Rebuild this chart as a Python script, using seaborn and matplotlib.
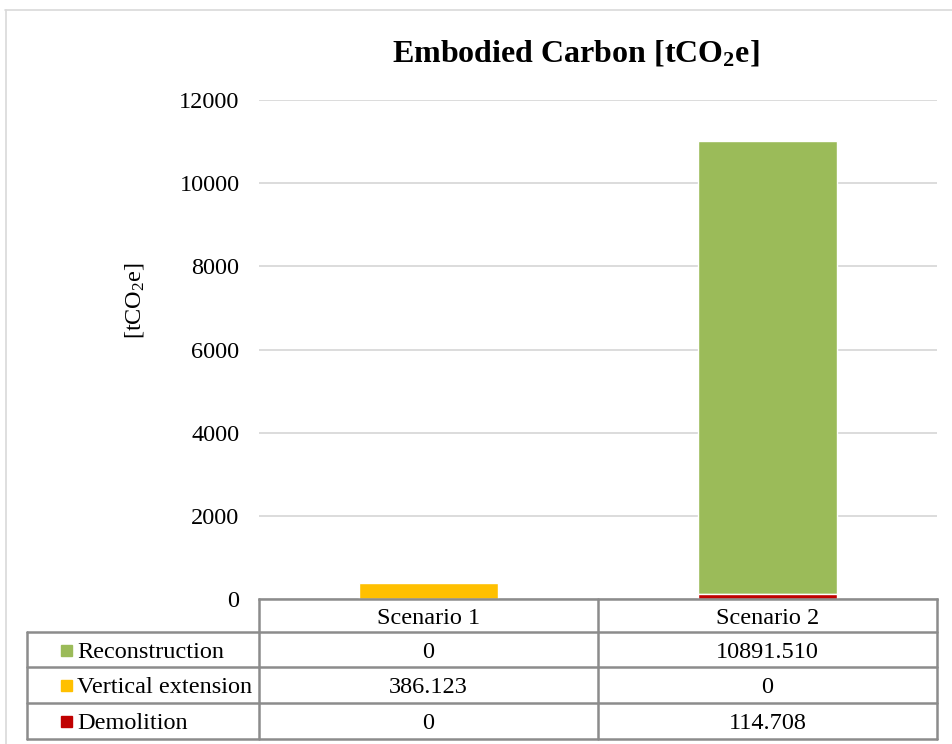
import numpy as np
import pandas as pd
import seaborn as sns
import matplotlib.pyplot as plt
from matplotlib.lines import Line2D
from matplotlib.patches import Rectangle

# datos
scenarios = ['Scenario 1', 'Scenario 2']
series = ['Reconstruction', 'Vertical extension', 'Demolition']
reconstruction = [0.0, 10891.510]
vertical_ext = [386.123, 0.0]
demolition = [0.0, 114.708]
cell_text = [['0', '10891.510'], ['386.123', '0'], ['0', '114.708']]
colores = ['#9BBB59', '#FFC000', '#C00000']

sns.set_style('white')
plt.rcParams['font.family'] = ['Liberation Serif', 'DejaVu Serif']
plt.rcParams['mathtext.fontset'] = 'custom'
plt.rcParams['mathtext.rm'] = 'Liberation Serif'
plt.rcParams['mathtext.it'] = 'Liberation Serif:italic'
plt.rcParams['mathtext.bf'] = 'Liberation Serif:bold'
plt.rcParams['text.color'] = 'black'
plt.rcParams['ytick.color'] = 'black'

W, H = 952, 744
fig = plt.figure(figsize=(W / 100, H / 100), dpi=100)
fs = 17.5

def fx(px):
    return px / W

def fy(py):
    return 1 - py / H

# area del grafico en pixeles
x0, x1, ytop, ybot = 259, 937, 100, 599
ax = fig.add_axes([fx(x0), fy(ybot), fx(x1) - fx(x0), fy(ytop) - fy(ybot)])

df = pd.DataFrame({'scenario': scenarios,
                   'dem': demolition,
                   'ver': np.array(demolition) + np.array(vertical_ext),
                   'tot': np.array(demolition) + np.array(vertical_ext) + np.array(reconstruction)})

# apilado: se dibuja el total y se tapa con los de abajo
sns.barplot(data=df, x='scenario', y='tot', color=colores[0], width=0.408, saturation=1, ax=ax)
sns.barplot(data=df, x='scenario', y='ver', color=colores[1], width=0.408, saturation=1, ax=ax)
sns.barplot(data=df, x='scenario', y='dem', color=colores[2], width=0.408, saturation=1, ax=ax)

ax.set_xlim(-0.5, 1.5)
ax.set_ylim(0, 12000)
ax.set_yticks(np.arange(0, 12001, 2000))
ax.yaxis.grid(True, color='#D9D9D9', linewidth=1.3)
ax.set_axisbelow(True)
for s in ['top', 'right', 'left']:
    ax.spines[s].set_visible(False)
ax.spines['bottom'].set_color('#8C8C8C')
ax.spines['bottom'].set_linewidth(1.8)
ax.tick_params(axis='y', length=0, pad=14, labelsize=fs, labelcolor='black')
ax.set_xticks([])
ax.set_xlabel('')
ax.set_ylabel('')

fig.text(fx(135), fy(301), r'[tCO$_2$e]', rotation=90, ha='center', va='center',
         fontsize=fs)
fig.text(fx(576), fy(53), r'Embodied Carbon [tCO$_\mathbf{2}$e]', ha='center', va='center',
         fontsize=23, fontweight='bold')

# tabla de datos
gris = '#8C8C8C'
lw = 1.8
xcols = [27, 259, 598, 937]
yrows = [599, 632, 667, 703, 739]

def hline(y, xa, xb):
    fig.add_artist(Line2D([fx(xa), fx(xb)], [fy(y), fy(y)], color=gris, lw=lw))

def vline(x, ya, yb):
    fig.add_artist(Line2D([fx(x), fx(x)], [fy(ya), fy(yb)], color=gris, lw=lw))

for y in yrows[1:]:
    hline(y, xcols[0], xcols[-1])
for x in xcols[1:]:
    vline(x, yrows[0], yrows[-1])
vline(xcols[0], yrows[1], yrows[-1])

for j, sc in enumerate(scenarios):
    xc = (xcols[j + 1] + xcols[j + 2]) / 2
    fig.text(fx(xc), fy((yrows[0] + yrows[1]) / 2), sc, ha='center', va='center_baseline', fontsize=fs)

for i, nombre in enumerate(series):
    yc = (yrows[i + 1] + yrows[i + 2]) / 2
    fig.add_artist(Rectangle((fx(61), fy(yc + 6)), fx(11), 11 / H, color=colores[i]))
    fig.text(fx(77), fy(yc), nombre, ha='left', va='center_baseline', fontsize=fs)
    for j in range(len(scenarios)):
        xc = (xcols[j + 1] + xcols[j + 2]) / 2
        fig.text(fx(xc), fy(yc), cell_text[i][j], ha='center', va='center_baseline', fontsize=fs)

# marco exterior
fig.add_artist(Line2D([fx(5), fx(952)], [fy(10), fy(10)], color='#D9D9D9', lw=1.2))
fig.add_artist(Line2D([fx(6), fx(6)], [fy(10), fy(744)], color='#D9D9D9', lw=1.2))

plt.savefig('out.png', dpi=100)
plt.close()
